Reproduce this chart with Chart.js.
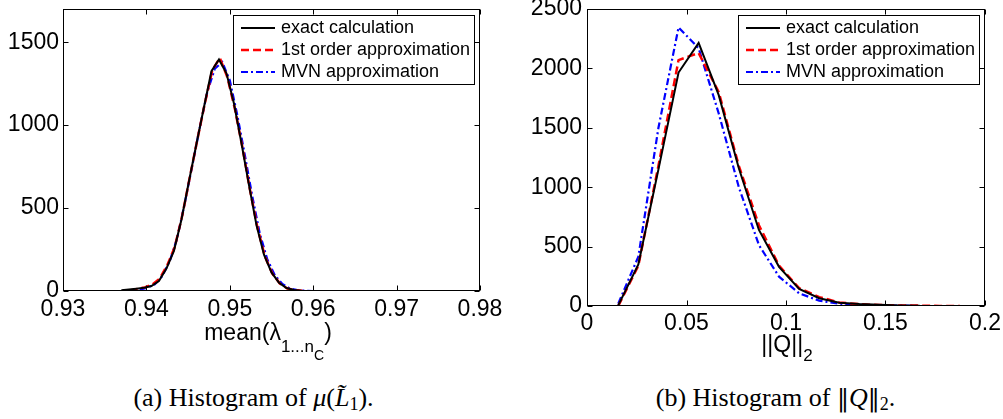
<!DOCTYPE html>
<html>
<head>
<meta charset="utf-8">
<script src="https://cdn.jsdelivr.net/npm/chart.js@4.4.0/dist/chart.umd.min.js"></script>
<style>
  body { margin: 0; background: #fff; width: 1003px; height: 419px; position: relative; overflow: hidden; font-family: "Liberation Sans", Arial, sans-serif; color: #000; }
  canvas { position: absolute; top: 0; }
  #histMean { left: 0; }
  #histNorm { left: 525px; }
  .xtitle { position: absolute; font-size: 23px; line-height: 22px; white-space: nowrap; text-align: center; }
  .caption { position: absolute; font-family: "Liberation Serif", "Times New Roman", serif; font-size: 26px; line-height: 26px; white-space: nowrap; text-align: center; }
  .sub { position: relative; }
  .bars { font-family: "DejaVu Serif", serif; font-size: 24px; }
</style>
</head>
<body>
<canvas id="histMean" width="520" height="340"></canvas>
<canvas id="histNorm" width="478" height="340"></canvas>

<div class="xtitle" style="left:168px; width:200px; top:321px;">mean(λ<span class="sub" style="font-size:17px; top:12px;">1...n<span class="sub" style="font-size:14px; top:8px;">C</span></span>)</div>
<div class="xtitle" style="left:687px; width:200px; top:333px;">||Q||<span class="sub" style="font-size:17px; top:9px;">2</span></div>

<div class="caption" style="left:0; width:507px; top:385px;">(a) Histogram of <i>μ</i>(<i>L̃</i><span class="sub" style="font-size:18px; top:4px;">1</span>).</div>
<div class="caption" style="left:548px; width:455px; top:385px;">(b) Histogram of <span class="bars">‖</span><i>Q</i><span class="bars">‖</span><span class="sub" style="font-size:18px; top:4px;">2</span>.</div>

<script>
// histogram of the mean eigenvalue
const meanExactX = [0.9370, 0.9379, 0.9388, 0.9397, 0.9406, 0.9415, 0.9424, 0.9433, 0.9442, 0.9451, 0.9460, 0.9469, 0.9478,
                    0.9487, 0.9496, 0.9505, 0.9514, 0.9523, 0.9532, 0.9541, 0.9550, 0.9559, 0.9568, 0.9577, 0.9586];
const meanExactY = [5, 9, 14, 19, 30, 60, 135, 242, 430, 660, 886, 1108, 1325,
                    1396, 1312, 1130, 891, 638, 397, 219, 112, 50, 18, 6, 2];
const meanFirstX = [0.9380, 0.9389, 0.9398, 0.9407, 0.9416, 0.9425, 0.9434, 0.9443, 0.9452, 0.9461, 0.9470, 0.9479,
                    0.9488, 0.9497, 0.9506, 0.9515, 0.9524, 0.9533, 0.9542, 0.9551, 0.9560, 0.9569, 0.9578, 0.9587];
const meanFirstY = [3, 12, 22, 38, 75, 155, 265, 455, 685, 910, 1130, 1330,
                    1405, 1290, 1100, 870, 615, 385, 210, 105, 45, 15, 5, 1];
const meanMvnX = [0.9392, 0.9401, 0.9410, 0.9419, 0.9428, 0.9437, 0.9446, 0.9455, 0.9464, 0.9473, 0.9482, 0.9491,
                  0.9500, 0.9509, 0.9518, 0.9527, 0.9536, 0.9545, 0.9554, 0.9563, 0.9572, 0.9581, 0.9590, 0.9599];
const meanMvnY = [8, 20, 40, 90, 180, 320, 530, 755, 985, 1200, 1340, 1380,
                  1270, 1060, 820, 570, 345, 190, 95, 42, 15, 5, 2, 0];

// histogram of ||Q||_2
const normX = [0.0157, 0.0258, 0.0359, 0.0460, 0.0561, 0.0662, 0.0763, 0.0864, 0.0965, 0.1066, 0.1167, 0.1268,
               0.1369, 0.1470, 0.1571, 0.1672];
const normFirstX = [0.0157, 0.0258, 0.0359, 0.0460, 0.0561, 0.0662, 0.0763, 0.0864, 0.0965, 0.1066, 0.1167, 0.1268,
                    0.1369, 0.1470, 0.1571, 0.1672, 0.1773, 0.1874];
const normExactY = [5, 350, 1150, 1965, 2215, 1775, 1160, 640, 330, 143, 65, 28, 17, 10, 5, 3];
const normFirstY = [0, 340, 1180, 2070, 2130, 1800, 1180, 680, 340, 150, 75, 30, 15, 8, 5, 3, 1, 1];
const normMvnY = [20, 415, 1500, 2345, 2170, 1620, 1000, 513, 247, 107, 45, 20, 10, 6, 3, 1];

// axis ticks
const meanTicks = [0.93, 0.94, 0.95, 0.96, 0.97, 0.98];
const meanTickLabels = ['0.93', '0.94', '0.95', '0.96', '0.97', '0.98'];
const meanCountTicks = [0, 500, 1000, 1500];
const normTicks = [0, 0.05, 0.1, 0.15, 0.2];
const normTickLabels = ['0', '0.05', '0.1', '0.15', '0.2'];
const normCountTicks = [0, 500, 1000, 1500, 2000, 2500];

const seriesNames = ['exact calculation', '1st order approximation', 'MVN approximation'];

const toPoints = (xs, ys) => xs.map((x, i) => ({ x: x, y: ys[i] }));

const lineStyles = [
  { borderColor: '#000000', borderWidth: 2, borderDash: [] },
  { borderColor: '#ff0000', borderWidth: 2.5, borderDash: [8, 4] },
  { borderColor: '#0000ff', borderWidth: 2.2, borderDash: [7, 3, 2, 3] },
];

// matlab style box with inward tick marks
const axesFrame = {
  id: 'axesFrame',
  afterDatasetsDraw(chart) {
    const { ctx, chartArea: a, scales } = chart;
    const l = Math.round(a.left) + 0.5, r = Math.round(a.right) - 0.5;
    const t = Math.round(a.top) + 0.5, b = Math.round(a.bottom) - 0.5;
    ctx.save();
    ctx.strokeStyle = '#000';
    ctx.lineWidth = 1;
    ctx.setLineDash([]);
    ctx.strokeRect(l, t, r - l, b - t);
    ctx.beginPath();
    scales.x.ticks.forEach(tk => {
      const px = Math.round(scales.x.getPixelForValue(tk.value)) + 0.5;
      ctx.moveTo(px, b); ctx.lineTo(px, b - 5);
      ctx.moveTo(px, t); ctx.lineTo(px, t + 5);
    });
    scales.y.ticks.forEach(tk => {
      const py = Math.round(scales.y.getPixelForValue(tk.value)) + 0.5;
      ctx.moveTo(l, py); ctx.lineTo(l + 5, py);
      ctx.moveTo(r, py); ctx.lineTo(r - 5, py);
    });
    ctx.stroke();
    ctx.restore();
  }
};

// boxed legend in the upper right corner of the axes
const legendBox = {
  id: 'legendBox',
  afterDraw(chart) {
    const { ctx, chartArea: a } = chart;
    const w = 241, h = 69;
    const x0 = Math.round(a.right) - 6 - w, y0 = Math.round(a.top) + 6;
    ctx.save();
    ctx.fillStyle = '#fff';
    ctx.fillRect(x0, y0, w, h);
    ctx.strokeStyle = '#000';
    ctx.lineWidth = 1;
    ctx.setLineDash([]);
    ctx.strokeRect(x0 + 0.5, y0 + 0.5, w, h);
    chart.data.datasets.forEach((ds, i) => {
      const y = y0 + 13 + i * 22;
      ctx.beginPath();
      ctx.setLineDash(ds.borderDash);
      ctx.strokeStyle = ds.borderColor;
      ctx.lineWidth = ds.borderWidth;
      ctx.moveTo(x0 + 8, y);
      ctx.lineTo(x0 + 42, y);
      ctx.stroke();
      ctx.setLineDash([]);
      ctx.fillStyle = '#000';
      ctx.font = '18px "Liberation Sans", Arial, sans-serif';
      ctx.textBaseline = 'middle';
      ctx.textAlign = 'left';
      ctx.fillText(ds.label, x0 + 48, y);
    });
    ctx.restore();
  }
};

function makeChart(el, sets, xr, yr, layoutPad, yWidth, xHeight) {
  const tickFont = { family: '"Liberation Sans", Arial, sans-serif', size: 23 };
  return new Chart(el, {
    type: 'line',
    data: {
      datasets: sets.map((s, i) => Object.assign({
        label: seriesNames[i],
        data: toPoints(s[0], s[1]),
        pointRadius: 0,
        fill: false,
        tension: 0,
      }, lineStyles[i])),
    },
    options: {
      responsive: false,
      animation: false,
      devicePixelRatio: 1,
      layout: { padding: layoutPad },
      scales: {
        x: {
          type: 'linear',
          min: xr.min,
          max: xr.max,
          grid: { display: false, drawTicks: false },
          border: { display: false },
          afterBuildTicks: s => { s.ticks = xr.ticks.map(v => ({ value: v })); },
          afterFit: s => { s.height = xHeight; s.paddingLeft = 0; s.paddingRight = 0; },
          ticks: {
            autoSkip: false,
            maxRotation: 0,
            padding: xr.pad,
            color: '#000',
            font: tickFont,
            callback: (v, i) => xr.labels[i],
          },
        },
        y: {
          min: yr.min,
          max: yr.max,
          grid: { display: false, drawTicks: false },
          border: { display: false },
          afterBuildTicks: s => { s.ticks = yr.ticks.map(v => ({ value: v })); },
          afterFit: s => { s.width = yWidth; s.paddingTop = 0; s.paddingBottom = 0; },
          ticks: {
            autoSkip: false,
            padding: yr.pad,
            color: '#000',
            font: tickFont,
            callback: v => String(v),
          },
        },
      },
      plugins: {
        legend: { display: false },
        tooltip: { enabled: false },
      },
    },
    plugins: [axesFrame, legendBox],
  });
}

makeChart(document.getElementById('histMean'),
  [[meanExactX, meanExactY], [meanFirstX, meanFirstY], [meanMvnX, meanMvnY]],
  { min: 0.93, max: 0.98, ticks: meanTicks, labels: meanTickLabels, pad: 5 },
  { min: 0, max: 1700, ticks: meanCountTicks, pad: 4 },
  { top: 9, right: 40, bottom: 9, left: 0 }, 63, 40);

makeChart(document.getElementById('histNorm'),
  [[normX, normExactY], [normFirstX, normFirstY], [normX, normMvnY]],
  { min: 0, max: 0.2, ticks: normTicks, labels: normTickLabels, pad: 4 },
  { min: 0, max: 2500, ticks: normCountTicks, pad: 5 },
  { top: 9, right: 18, bottom: 0, left: 0 }, 62, 34);
</script>
</body>
</html>
